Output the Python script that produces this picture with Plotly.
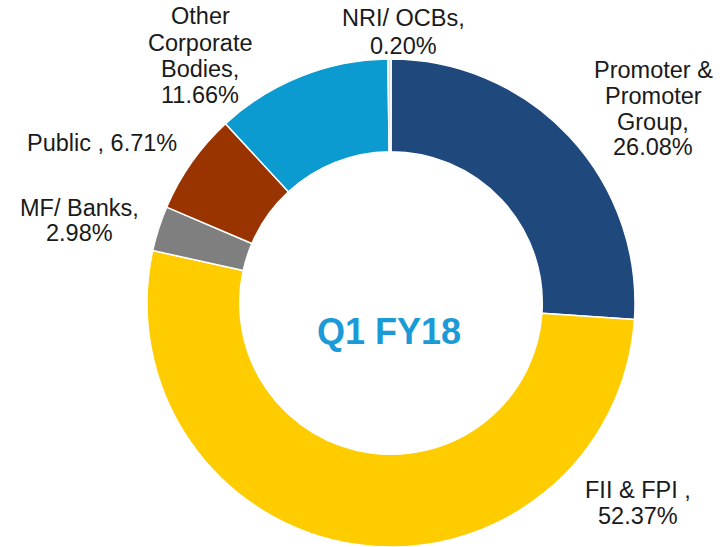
import plotly.graph_objects as go

categories = ["Promoter & Promoter Group", "FII & FPI", "MF/ Banks", "Public", "Other Corporate Bodies", "NRI/ OCBs"]
values = [26.08, 52.37, 2.98, 6.71, 11.66, 0.20]
# each label is drawn line by line (tight PowerPoint-like line spacing)
label_lines = [
    ["Promoter &", "Promoter", "Group,", "26.08%"],
    ["FII & FPI ,", "52.37%"],
    ["MF/ Banks,", "2.98%"],
    ["Public , 6.71%"],
    ["Other", "Corporate", "Bodies,", "11.66%"],
    ["NRI/ OCBs,", "0.20%"],
]
colors = ["#1f497d", "#ffcc00", "#7f7f7f", "#993300", "#0c9bd0", "#d9d9d9"]
center_text = "Q1 FY18"

W, H = 724, 547
# label positions (pixels): x centre, y of each line centre
label_x = [653, 638, 79, 102, 200, 403]
label_y = [[70, 96, 122, 147], [490, 516], [208, 233], [143], [16, 43, 69, 95], [18, 46]]

cx, cy, r = 391, 304, 245

fig = go.Figure(go.Pie(
    labels=categories,
    values=values,
    sort=False,
    direction="clockwise",
    rotation=0,
    hole=0.62,
    marker=dict(colors=colors, line=dict(color="white", width=1.5)),
    textinfo="none",
    hoverinfo="label+percent",
    showlegend=False,
    domain=dict(x=[(cx - r) / W, (cx + r) / W], y=[max(0, 1 - (cy + r) / H), 1 - (cy - r) / H]),
))

font = dict(family="Liberation Sans, Arial, sans-serif", size=23.5, color="#1a1a1a")
annotations = []
for lines, x, ys in zip(label_lines, label_x, label_y):
    for line, y in zip(lines, ys):
        annotations.append(dict(
            text=line, x=x / W, y=1 - y / H, xref="paper", yref="paper",
            showarrow=False, xanchor="center", yanchor="middle", font=font,
        ))
annotations.append(dict(
    text="<b>" + center_text + "</b>", x=389 / W, y=1 - 331 / H,
    xref="paper", yref="paper", showarrow=False, xanchor="center", yanchor="middle",
    font=dict(family="Liberation Sans, Arial, sans-serif", size=36, color="#1a9ad6"),
))

fig.update_layout(
    width=W, height=H,
    margin=dict(l=0, r=0, t=0, b=0),
    paper_bgcolor="white",
    plot_bgcolor="white",
    annotations=annotations,
)

fig.write_html(
    "out.html",
    config={"displayModeBar": False},
    post_script="document.body.style.margin='0px';document.body.style.overflow='hidden';",
)
